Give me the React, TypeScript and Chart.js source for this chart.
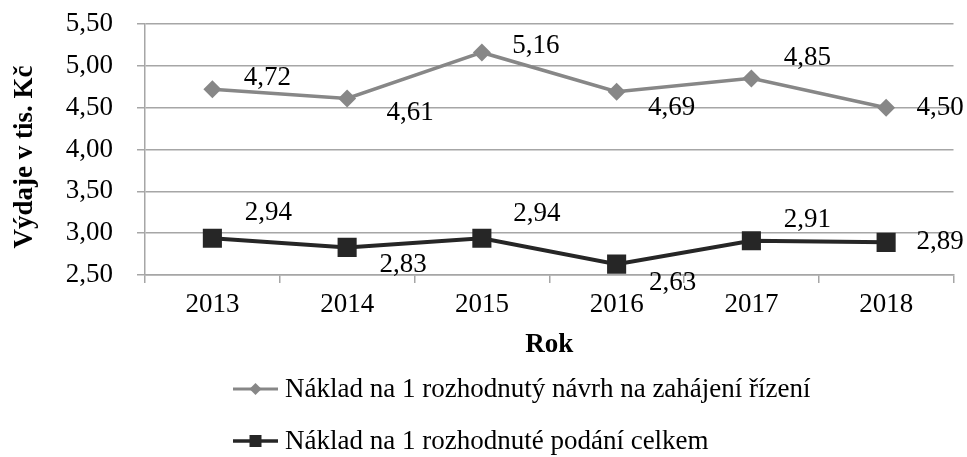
import React, { useEffect, useRef } from 'react';
import { Chart, registerables } from 'chart.js';

Chart.register(...registerables);

const years = ['2013', '2014', '2015', '2016', '2017', '2018'];
const navrhValues = [4.72, 4.61, 5.16, 4.69, 4.85, 4.5];
const podaniValues = [2.94, 2.83, 2.94, 2.63, 2.91, 2.89];
const seriesNames = [
  'Náklad na 1 rozhodnutý návrh na zahájení řízení',
  'Náklad na 1 rozhodnuté podání celkem',
];
const yMin = 2.5;
const yMax = 5.5;
const yStep = 0.5;
const yTitle = 'Výdaje v tis. Kč';
const xTitle = 'Rok';

// label offsets relative to each point (layout only)
const navrhLabelOffsets = [[55, -11], [63, 14], [54, -7], [55, 16], [56, -20], [54, 0]];
const podaniLabelOffsets = [[56, -25], [56, 18], [55, -24], [56, 19], [56, -21], [54, 0]];

const FONT = "'Liberation Serif', 'Times New Roman', serif";
const FS = 27;
const GRID = '#a6a6a6';
const GRAY = '#878787';
const DARK = '#262626';

const fmt = (v: number) => v.toFixed(2).replace('.', ',');

const drawMarker = (ctx: CanvasRenderingContext2D, kind: string, x: number, y: number, r: number, color: string) => {
  ctx.save();
  ctx.fillStyle = color;
  ctx.beginPath();
  if (kind === 'diamond') {
    ctx.moveTo(x, y - r);
    ctx.lineTo(x + r, y);
    ctx.lineTo(x, y + r);
    ctx.lineTo(x - r, y);
    ctx.closePath();
  } else {
    ctx.rect(x - r, y - r, 2 * r, 2 * r);
  }
  ctx.fill();
  ctx.restore();
};

const extrasPlugin = {
  id: 'extras',
  afterDatasetsDraw(chart: any) {
    const ctx: CanvasRenderingContext2D = chart.ctx;
    const offsets = [navrhLabelOffsets, podaniLabelOffsets];
    ctx.save();
    ctx.font = `${FS}px ${FONT}`;
    ctx.fillStyle = '#000';
    ctx.textAlign = 'center';
    ctx.textBaseline = 'middle';
    chart.data.datasets.forEach((ds: any, di: number) => {
      const meta = chart.getDatasetMeta(di);
      meta.data.forEach((pt: any, i: number) => {
        const [dx, dy] = offsets[di][i];
        ctx.fillText(fmt(ds.data[i]), pt.x + dx, pt.y + dy);
      });
    });
    ctx.restore();
  },
  afterDraw(chart: any) {
    const ctx: CanvasRenderingContext2D = chart.ctx;
    const area = chart.chartArea;
    ctx.save();
    ctx.fillStyle = '#000';
    ctx.font = `bold ${FS}px ${FONT}`;
    ctx.textAlign = 'center';
    ctx.textBaseline = 'middle';
    // x title
    ctx.fillText(xTitle, (area.left + area.right) / 2, 345);
    // y title
    ctx.save();
    ctx.translate(25, 157);
    ctx.rotate(-Math.PI / 2);
    ctx.fillText(yTitle, 0, 0);
    ctx.restore();

    // legend
    const items = [
      { name: seriesNames[0], color: GRAY, kind: 'diamond', r: 6, lw: 3, y: 389 },
      { name: seriesNames[1], color: DARK, kind: 'square', r: 6, lw: 3.5, y: 441 },
    ];
    ctx.font = `${FS}px ${FONT}`;
    ctx.textAlign = 'left';
    items.forEach((it) => {
      ctx.strokeStyle = it.color;
      ctx.lineWidth = it.lw;
      ctx.beginPath();
      ctx.moveTo(233, it.y);
      ctx.lineTo(278, it.y);
      ctx.stroke();
      drawMarker(ctx, it.kind, 255.5, it.y, it.r, it.color);
      ctx.fillStyle = '#000';
      ctx.fillText(it.name, 285, it.y + 1);
    });
    ctx.restore();
  },
};

export default function App() {
  const ref = useRef<HTMLCanvasElement>(null);
  useEffect(() => {
    if (!ref.current) return;
    const chart = new Chart(ref.current, {
      type: 'line',
      data: {
        labels: years,
        datasets: [
          {
            label: seriesNames[0],
            data: navrhValues,
            borderColor: GRAY,
            backgroundColor: GRAY,
            borderWidth: 3.5,
            pointStyle: 'rectRot',
            pointRadius: 9,
            pointBorderWidth: 0,
            tension: 0,
          },
          {
            label: seriesNames[1],
            data: podaniValues,
            borderColor: DARK,
            backgroundColor: DARK,
            borderWidth: 4,
            pointStyle: 'rect',
            pointRadius: 13.5,
            pointBorderWidth: 0,
            tension: 0,
          },
        ],
      },
      options: {
        animation: false,
        responsive: false,
        maintainAspectRatio: false,
        layout: { padding: { left: 0, right: 13, top: 24, bottom: 0 } },
        plugins: { legend: { display: false }, tooltip: { enabled: false }, title: { display: false } },
        scales: {
          x: {
            type: 'category',
            offset: true,
            grid: { offset: true, drawOnChartArea: false, drawTicks: true, tickLength: 8, color: GRID, lineWidth: 1.5 },
            border: { color: GRID, width: 1.5 },
            ticks: { font: { family: FONT, size: FS }, color: '#000', padding: 6, maxRotation: 0 },
            afterFit: (s: any) => { s.height = 182; s.paddingLeft = 0; s.paddingRight = 0; },
          },
          y: {
            min: yMin,
            max: yMax,
            grid: { color: GRID, lineWidth: 1.5, tickLength: 8, drawTicks: true },
            border: { color: GRID, width: 1.5 },
            ticks: { stepSize: yStep, font: { family: FONT, size: FS }, color: '#000', padding: 24, callback: (v: any) => fmt(Number(v)) },
            afterFit: (s: any) => { s.width = 145; s.paddingTop = 0; s.paddingBottom = 0; },
          },
        },
      },
      plugins: [extrasPlugin],
    });
    return () => chart.destroy();
  }, []);
  return (
    <div style={{ position: 'absolute', left: 0, top: 0, width: 967, height: 457, background: '#fff' }}>
      <canvas ref={ref} width={967} height={457} style={{ display: 'block', width: 967, height: 457 }} />
    </div>
  );
}
